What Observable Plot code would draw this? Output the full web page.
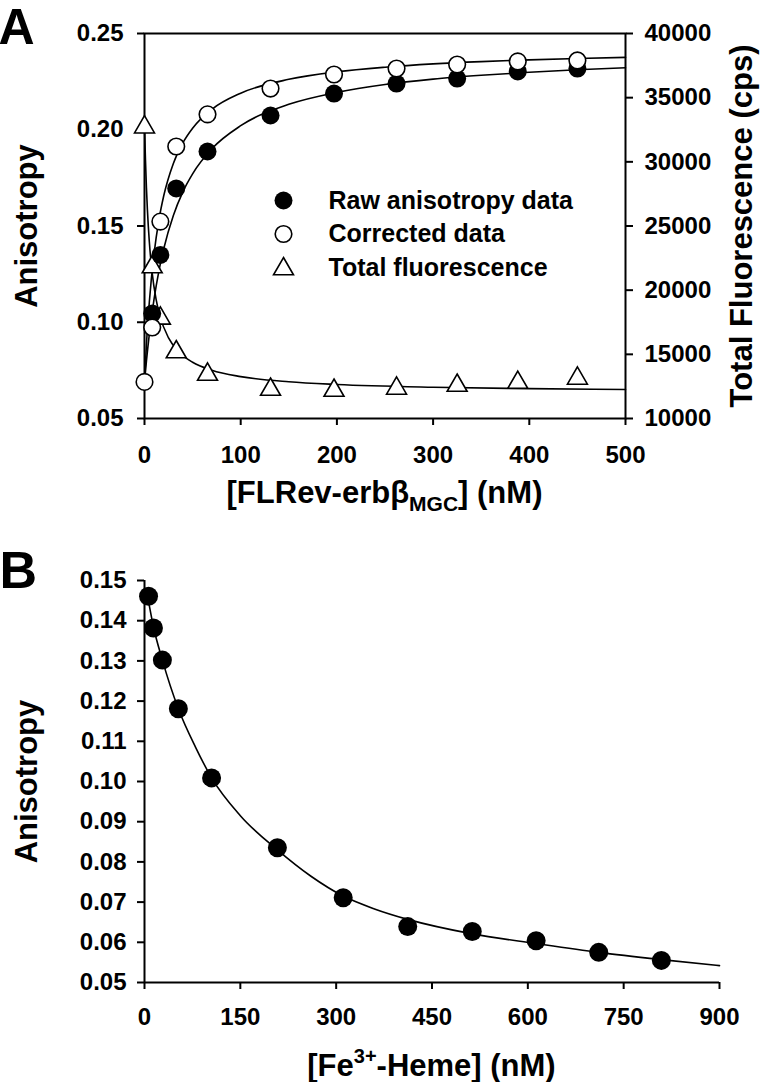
<!DOCTYPE html>
<html>
<head>
<meta charset="utf-8">
<script src="https://cdn.jsdelivr.net/npm/d3@7"></script>
<script src="https://cdn.jsdelivr.net/npm/@observablehq/plot@0.6"></script>
<style>
  body { margin: 0; background: #fff; }
  #wrap { position: relative; width: 760px; height: 1082px; overflow: hidden; background: #fff; }
  #wrap > div { position: absolute; left: 0; }
  svg text { fill: #000; }
</style>
</head>
<body>
<div id="wrap"><div id="pb" style="top:520px"></div><div id="pa" style="top:0px"></div></div>
<script>
// ---------------- Panel A data ----------------
const concA      = [0, 8, 16.5, 33, 65.5, 131, 197, 262, 325, 388, 450];
const rawA       = [null, 0.1045, 0.135, 0.1695, 0.1887, 0.2074, 0.2188, 0.224, 0.2266, 0.2303, 0.2318];
const corrA      = [0.069, 0.0973, 0.1523, 0.1913, 0.208, 0.2214, 0.2287, 0.2318, 0.2339, 0.2355, 0.236];
const fluorA     = [32700, 21800, 17800, 15180, 13430, 12260, 12180, 12340, 12570, 12800, 13120];

const fitXA      = [0, 2, 5, 10, 15, 20, 30, 40, 50, 70, 100, 150, 200, 250, 300, 350, 400, 450, 500];
const fitRawA    = [0.069, 0.0798, 0.0937, 0.1123, 0.1267, 0.1382, 0.1555, 0.1679, 0.1771, 0.1901, 0.2021, 0.2132, 0.2194, 0.2235, 0.2263, 0.2283, 0.2299, 0.2312, 0.2322];
const fitCorrA   = [0.069, 0.0883, 0.1104, 0.1359, 0.1532, 0.1657, 0.1825, 0.1933, 0.2008, 0.2106, 0.219, 0.2262, 0.2301, 0.2325, 0.2342, 0.2354, 0.2363, 0.237, 0.2376];
const fitXF      = [0, 1, 2, 3, 5, 8, 12, 16, 25, 35, 50, 70, 100, 150, 200, 300, 400, 500];
const fitFluorA  = [32800, 30162, 28000, 26298, 23789, 21333, 19304, 18000, 16280, 15246, 14383, 13759, 13263, 12859, 12651, 12439, 12331, 12265];

const xDomainA   = [0, 500];
const xTicksA    = [0, 100, 200, 300, 400, 500];
const yDomainA   = [0.05, 0.25];
const yTicksA    = [0.05, 0.10, 0.15, 0.20, 0.25];
const fDomainA   = [10000, 40000];
const fTicksA    = [10000, 15000, 20000, 25000, 30000, 35000, 40000];

const legendA = [
  {label: "Raw anisotropy data", symbol: "circle", fill: "#000", stroke: "none"},
  {label: "Corrected data", symbol: "circle", fill: "#fff", stroke: "#000"},
  {label: "Total fluorescence", symbol: "triangle", fill: "#fff", stroke: "#000"}
];

// ---------------- Panel B data ----------------
const concB   = [6.3, 14, 28, 53, 105, 208, 311, 412, 513, 613, 711, 809];
const anisoB  = [0.1461, 0.1382, 0.1302, 0.1181, 0.1009, 0.0835, 0.0711, 0.0639, 0.0627, 0.0604, 0.0575, 0.0555];
const fitXB   = [3, 14, 28, 53, 80, 105, 150, 208, 260, 311, 360, 412, 513, 613, 711, 809, 900];
const fitYB   = [0.1478, 0.1385, 0.1302, 0.1181, 0.1085, 0.1009, 0.0915, 0.083, 0.0765, 0.0715, 0.0683, 0.0657, 0.0621, 0.0597, 0.0575, 0.0557, 0.0542];
const xDomainB = [0, 900];
const xTicksB  = [0, 150, 300, 450, 600, 750, 900];
const yDomainB = [0.05, 0.15];
const yTicksB  = [0.05, 0.06, 0.07, 0.08, 0.09, 0.10, 0.11, 0.12, 0.13, 0.14, 0.15];

// ---------------- helpers ----------------
const FONT = '"Liberation Sans", Arial, Helvetica, sans-serif';
const toA = f => yDomainA[0] + (f - fDomainA[0]) / (fDomainA[1] - fDomainA[0]) * (yDomainA[1] - yDomainA[0]);
const fromA = a => fDomainA[0] + (a - yDomainA[0]) / (yDomainA[1] - yDomainA[0]) * (fDomainA[1] - fDomainA[0]);

const ptsA  = concA.map((x, i) => ({x, raw: rawA[i], corr: corrA[i], fl: toA(fluorA[i])}));
const fitA  = fitXA.map((x, i) => ({x, raw: fitRawA[i], corr: fitCorrA[i]}));
const fitF  = fitXF.map((x, i) => ({x, fl: toA(fitFluorA[i])}));
const ptsB  = concB.map((x, i) => ({x, y: anisoB[i]}));
const fitB  = fitXB.map((x, i) => ({x, y: fitYB[i]}));

const AX = {stroke: "#000", strokeWidth: 2};

// ---------------- Panel A ----------------
const WA = 760, HA = 520, mlA = 144, mrA = 135, mtA = 33, mbA = 102;
const plotA = Plot.plot({
  width: WA, height: HA,
  marginLeft: mlA, marginRight: mrA, marginTop: mtA, marginBottom: mbA,
  style: {fontFamily: FONT, fontSize: "24px", fontWeight: "bold", background: "transparent", color: "#000", overflow: "visible"},
  x: {domain: xDomainA},
  y: {domain: yDomainA},
  marks: [
    Plot.frame({stroke: "#000", strokeWidth: 2}),
    Plot.axisX({ticks: xTicksA, tickSize: 7, tickPadding: 20, tickFormat: d => String(d), label: null, ...AX}),
    Plot.axisY({ticks: yTicksA, tickSize: 7, tickPadding: 14, tickFormat: d3.format(".2f"), label: null, ...AX}),
    Plot.axisY({anchor: "right", ticks: fTicksA.map(toA), tickSize: 7, tickPadding: 12,
                tickFormat: a => String(Math.round(fromA(a))), label: null, ...AX}),
    Plot.line(fitF, {x: "x", y: "fl", curve: "monotone-x", stroke: "#000", strokeWidth: 1.6}),
    Plot.line(fitA, {x: "x", y: "raw", curve: "monotone-x", stroke: "#000", strokeWidth: 1.6}),
    Plot.line(fitA, {x: "x", y: "corr", curve: "monotone-x", stroke: "#000", strokeWidth: 1.6}),
    Plot.dot(ptsA, {x: "x", y: "fl", symbol: "triangle", r: 7.4, fill: "#fff", stroke: "#000", strokeWidth: 1.6}),
    Plot.dot(ptsA, {x: "x", y: "raw", r: 9, fill: "#000", stroke: "none"}),
    Plot.dot(ptsA, {x: "x", y: "corr", r: 8.3, fill: "#fff", stroke: "#000", strokeWidth: 1.6}),
    // legend
    ...legendA.flatMap((d, i) => [
      Plot.dot([d], {frameAnchor: "top-left", dx: 139, dy: 167 + i * 33.5 + (d.symbol === "triangle" ? 1.5 : 0),
                     symbol: d.symbol, r: d.symbol === "triangle" ? 7.4 : (d.fill === "#000" ? 9 : 8.3),
                     fill: d.fill, stroke: d.stroke, strokeWidth: 1.6}),
      Plot.text([d], {frameAnchor: "top-left", dx: 184, dy: 167 + i * 33.5, text: "label",
                      textAnchor: "start", lineAnchor: "middle", fontSize: 25, fontWeight: "bold", fill: "#000"})
    ]),
    // axis titles
    Plot.text(["Anisotropy"], {text: d => d, frameAnchor: "left", rotate: -90, dx: -117, textAnchor: "middle", lineAnchor: "middle",
                               fontSize: 31, fontWeight: "bold", fill: "#000"}),
    Plot.text(["Total Fluorescence (cps)"], {text: d => d, frameAnchor: "right", rotate: -90, dx: 117, textAnchor: "middle", lineAnchor: "middle",
                               fontSize: 31, fontWeight: "bold", fill: "#000"}),
    // panel letter
    Plot.text(["A"], {text: d => d, frameAnchor: "top-left", dx: -146, dy: 10, textAnchor: "start", lineAnchor: "bottom", fontSize: 50, fontWeight: "bold", fill: "#000"})
  ]
});

// ---------------- Panel B ----------------
const WB = 760, HB = 562, mlB = 144, mrB = 41, mtB = 60, mbB = 100;
const plotB = Plot.plot({
  width: WB, height: HB,
  marginLeft: mlB, marginRight: mrB, marginTop: mtB, marginBottom: mbB,
  style: {fontFamily: FONT, fontSize: "24px", fontWeight: "bold", background: "transparent", color: "#000", overflow: "visible"},
  x: {domain: xDomainB},
  y: {domain: yDomainB},
  marks: [
    Plot.ruleX([xDomainB[0]], {stroke: "#000", strokeWidth: 2}),
    Plot.ruleY([yDomainB[0]], {stroke: "#000", strokeWidth: 2}),
    Plot.axisX({ticks: xTicksB, tickSize: 7, tickPadding: 18, tickFormat: d => String(d), label: null, ...AX}),
    Plot.axisY({ticks: yTicksB, tickSize: 7, tickPadding: 11, tickFormat: d3.format(".2f"), label: null, ...AX}),
    Plot.line(fitB, {x: "x", y: "y", curve: "monotone-x", stroke: "#000", strokeWidth: 1.6}),
    Plot.dot(ptsB, {x: "x", y: "y", r: 9.5, fill: "#000", stroke: "none"}),
    Plot.text(["Anisotropy"], {text: d => d, frameAnchor: "left", rotate: -90, dx: -117, textAnchor: "middle", lineAnchor: "middle",
                               fontSize: 31, fontWeight: "bold", fill: "#000"}),
    Plot.text(["B"], {text: d => d, frameAnchor: "top-left", dx: -145, dy: 7, textAnchor: "start", lineAnchor: "bottom", fontSize: 52, fontWeight: "bold", fill: "#000"})
  ]
});

document.getElementById("pa").appendChild(plotA);
document.getElementById("pb").appendChild(plotB);

// x-axis titles with sub/superscripts (real SVG text with tspans)
function addTitle(svg, cx, y, parts) {
  const t = d3.select(svg).append("text")
    .attr("x", cx).attr("y", y)
    .attr("text-anchor", "middle")
    .style("font-family", FONT).style("font-size", "31px").style("font-weight", "bold").attr("fill", "#000");
  parts.forEach(p => {
    const s = t.append("tspan").text(p.text);
    if (p.dy) s.attr("dy", p.dy);
    if (p.size) s.style("font-size", p.size);
  });
}
addTitle(plotA, mlA + (WA - mlA - mrA) / 2, HA - mbA + 85, [
  {text: "[FLRev-erb\u03B2"},
  {text: "MGC", dy: 8, size: "21px"},
  {text: "] (nM)", dy: -8}
]);
addTitle(plotB, mlB + (WB - mlB - mrB) / 2, HB - mbB + 94, [
  {text: "[Fe"},
  {text: "3+", dy: -13, size: "20px"},
  {text: "-Heme] (nM)", dy: 13}
]);
</script>
</body>
</html>
